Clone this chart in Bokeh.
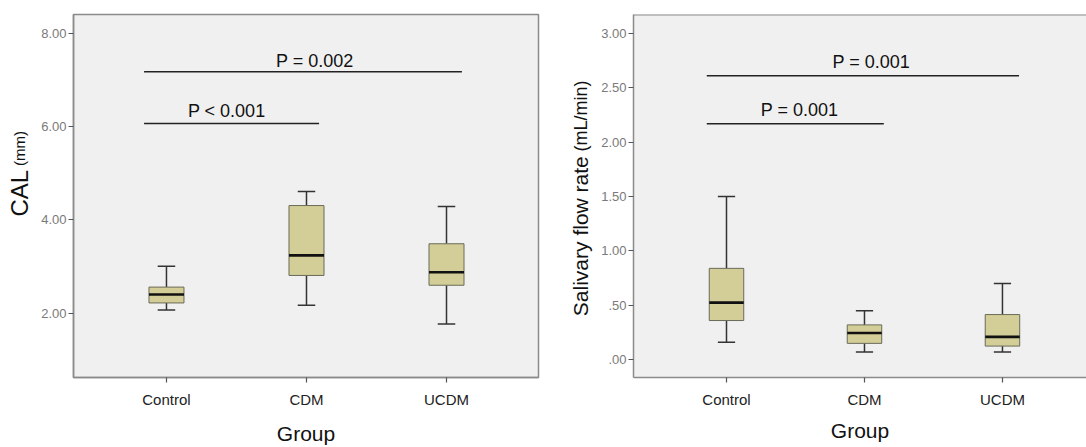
import numpy as np
from bokeh.plotting import figure
from bokeh.models import Range1d, FixedTicker, Span
from bokeh.layouts import row
from bokeh.core.properties import value
from bokeh.embed import file_html
from bokeh.resources import INLINE

# ---------------- data ----------------
groups = ["Control", "CDM", "UCDM"]
group_pos = [1, 2, 3]

cal_lower = [2.07, 2.17, 1.77]
cal_q1 = [2.22, 2.81, 2.60]
cal_median = [2.40, 3.24, 2.88]
cal_q3 = [2.56, 4.31, 3.49]
cal_upper = [3.01, 4.61, 4.29]
cal_ticks = [2, 4, 6, 8]
cal_tick_labels = ["2.00", "4.00", "6.00", "8.00"]
cal_sig_text = ["P < 0.001", "P = 0.002"]
cal_sig_x0 = [0.84, 0.84]
cal_sig_x1 = [2.09, 3.11]
cal_sig_y = [6.07, 7.18]
cal_sig_text_x = [1.43, 2.06]
cal_sig_text_y = [6.33, 7.41]

sal_lower = [0.16, 0.07, 0.07]
sal_q1 = [0.36, 0.15, 0.125]
sal_median = [0.525, 0.245, 0.21]
sal_q3 = [0.84, 0.32, 0.415]
sal_upper = [1.50, 0.45, 0.70]
sal_ticks = [0, 0.5, 1.0, 1.5, 2.0, 2.5, 3.0]
sal_tick_labels = [".00", ".50", "1.00", "1.50", "2.00", "2.50", "3.00"]
sal_sig_text = ["P = 0.001", "P = 0.001"]
sal_sig_x0 = [0.857, 0.857]
sal_sig_x1 = [2.14, 3.12]
sal_sig_y = [2.17, 2.612]
sal_sig_text_x = [1.53, 2.05]
sal_sig_text_y = [2.294, 2.736]

FONT = "Liberation Sans"
BOX_FILL = "#d3ce97"
FRAME = "#8a8a8a"
H = 447


def style(p, yticks, ylabels, xlabel_standoff):
    p.grid.visible = False
    p.xaxis.ticker = FixedTicker(ticks=group_pos)
    p.xaxis.major_label_overrides = {k: v for k, v in zip(group_pos, groups)}
    p.yaxis.ticker = FixedTicker(ticks=yticks)
    p.yaxis.major_label_overrides = {k: v for k, v in zip(yticks, ylabels)}
    for ax in (p.xaxis, p.yaxis):
        ax.axis_line_color = FRAME
        ax.axis_line_width = 1.5
        ax.major_tick_line_color = "#555555"
        ax.major_tick_line_width = 1.2
        ax.major_tick_out = 5
        ax.major_tick_in = 0
        ax.minor_tick_line_color = None
        ax.major_label_text_font = FONT
    p.xaxis.major_label_text_font_size = "15px"
    p.xaxis.major_label_text_color = "#222222"
    p.xaxis.major_label_standoff = 8
    p.xaxis.axis_label = "Group"
    p.xaxis.axis_label_text_font = FONT
    p.xaxis.axis_label_text_font_size = "21px"
    p.xaxis.axis_label_text_font_style = "normal"
    p.xaxis.axis_label_text_color = "#111111"
    p.xaxis.axis_label_standoff = xlabel_standoff
    p.yaxis.major_label_text_font_size = "13px"
    p.yaxis.major_label_text_color = "#7a7a7a"
    p.yaxis.major_label_standoff = 2


def boxes(p, lower, q1, med, q3, upper):
    x = np.array(group_pos, dtype=float)
    p.segment(x0=x, y0=q3, x1=x, y1=upper, line_color="#333333", line_width=1.5)
    p.segment(x0=x, y0=lower, x1=x, y1=q1, line_color="#333333", line_width=1.5)
    p.segment(x0=x - 0.0625, y0=upper, x1=x + 0.0625, y1=upper, line_color="#333333", line_width=1.5)
    p.segment(x0=x - 0.0625, y0=lower, x1=x + 0.0625, y1=lower, line_color="#333333", line_width=1.5)
    p.vbar(x=x, width=0.25, bottom=q1, top=q3, fill_color=BOX_FILL, line_color="#6a6a5a", line_width=1)
    p.segment(x0=x - 0.125, y0=med, x1=x + 0.125, y1=med, line_color="#111111", line_width=2.6)


def sig(p, x0, x1, y, tx, ty, texts):
    p.segment(x0=x0, y0=y, x1=x1, y1=y, line_color="#222222", line_width=1.5)
    p.text(x=tx, y=ty, text=texts, text_font=value(FONT), text_font_size="18px",
           text_align="center", text_baseline="middle", text_color="#111111")


def title_strip(width, x, parts):
    """A narrow strip holding a vertical axis title with mixed font sizes.
    parts: (text, anchor position measured from the top in pixels, font size)."""
    t = figure(width=width, height=H, x_range=Range1d(0, width), y_range=Range1d(0, H),
               x_axis_type=None, y_axis_type=None, output_backend="svg", toolbar_location=None,
               min_border=0, min_border_left=0, min_border_right=0, min_border_top=0, min_border_bottom=0)
    t.outline_line_color = None
    t.grid.visible = False
    for text, yc, size in parts:
        t.text(x=[x], y=[H - yc], text=[text], angle=np.pi / 2, text_font=value(FONT),
               text_font_size=size, text_align="center", text_baseline="middle", text_color="#111111")
    return t


# ---------------- left panel ----------------
t1 = title_strip(32, 19, [("CAL", 220, "24px"), ("(mm)", 165, "15px")])
p1 = figure(width=514, height=H, x_range=Range1d(0.336, 3.657), y_range=Range1d(0.62, 8.41),
            output_backend="svg", toolbar_location=None,
            min_border_left=41, min_border_right=8, min_border_top=13, min_border_bottom=69,
            background_fill_color="#f0f0f0", border_fill_color="white")
p1.outline_line_color = FRAME
p1.outline_line_width = 1.5
style(p1, cal_ticks, cal_tick_labels, 11)
boxes(p1, cal_lower, cal_q1, cal_median, cal_q3, cal_upper)
sig(p1, cal_sig_x0, cal_sig_x1, cal_sig_y, cal_sig_text_x, cal_sig_text_y, cal_sig_text)

# ---------------- right panel ----------------
t2 = title_strip(50, 34, [("Salivary flow rate", 273, "21px"), ("(mL/min)", 125, "18px")])
p2 = figure(width=490, height=H, x_range=Range1d(0.326, 3.609), y_range=Range1d(-0.164, 3.175),
            output_backend="svg", toolbar_location=None,
            min_border_left=37, min_border_right=0, min_border_top=14, min_border_bottom=66,
            background_fill_color="#f0f0f0", border_fill_color="white")
p2.outline_line_color = None
style(p2, sal_ticks, sal_tick_labels, 8)
p2.add_layout(Span(location=3.175, dimension="width", line_color=FRAME, line_width=2))
boxes(p2, sal_lower, sal_q1, sal_median, sal_q3, sal_upper)
sig(p2, sal_sig_x0, sal_sig_x1, sal_sig_y, sal_sig_text_x, sal_sig_text_y, sal_sig_text)

layout = row(t1, p1, t2, p2, spacing=0)
open("out.html", "w").write(file_html(layout, INLINE))
